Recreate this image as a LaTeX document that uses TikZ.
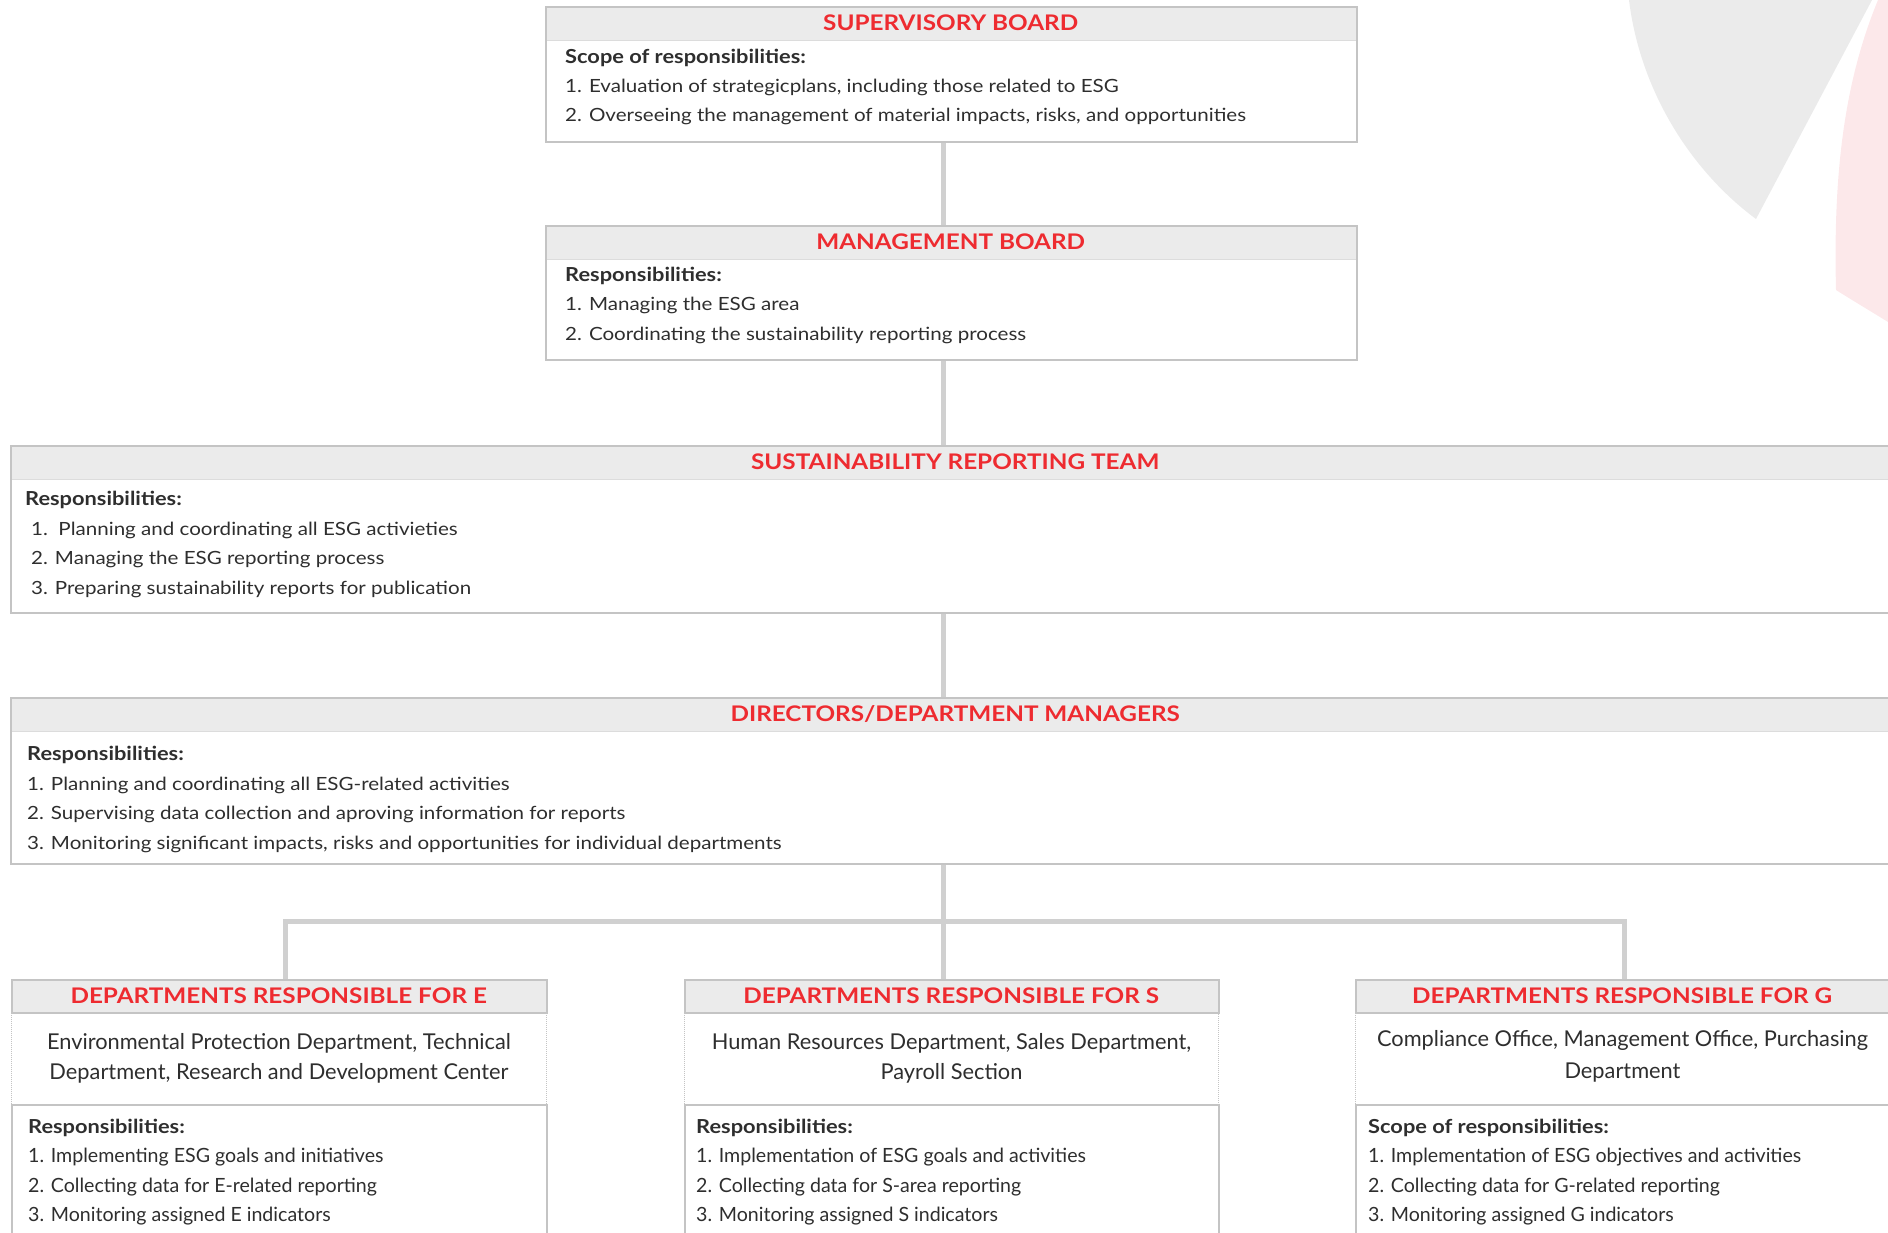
\documentclass[tikz,border=0pt]{standalone}
\usepackage{fontspec}
\setmainfont{Lato}
\newfontfamily\widefont[FakeStretch=1.13]{Lato}
\usepackage{tikz}
\usetikzlibrary{positioning}

\definecolor{boxred}{HTML}{EE2B30}
\definecolor{headgray}{HTML}{EBEBEB}
\definecolor{framegray}{HTML}{C4C4C4}
\definecolor{linkgray}{HTML}{D0D0D0}
\definecolor{textgray}{HTML}{2E2E2E}
\definecolor{leafgray}{HTML}{EBEBEB}
\definecolor{leafpink}{HTML}{FCE8EA}

\newcommand{\titlefont}{\widefont\fontsize{21.5}{25}\selectfont\bfseries}
\newcommand{\bodyfont}{\widefont\fontsize{18.2}{22}\selectfont}
\newcommand{\deptfont}{\fontsize{19.6}{22}\selectfont}
\newcommand{\leadfont}{\widefont\fontsize{19.3}{22}\selectfont\bfseries}
\newcommand{\unitfont}{\fontsize{21.8}{30}\selectfont}

\tikzset{
	frame/.style={draw=framegray, line width=2pt, rectangle, anchor=north west, inner sep=0pt},
	head/.style={fill=headgray, rectangle, anchor=north west, inner sep=0pt, minimum height=34pt, text=boxred, font=\titlefont},
	unitbox/.style={draw=framegray, densely dotted, line width=1pt, rectangle, anchor=north west, inner sep=0pt, minimum height=92pt, align=center, text=textgray, font=\unitfont},
	entry/.style={anchor=base west, inner sep=0pt, text=textgray, font=\bodyfont},
	deptentry/.style={entry, font=\deptfont},
	lead/.style={entry, font=\leadfont},
	link/.style={draw=linkgray, line width=5pt},
	sep/.style={draw=framegray!60, line width=1pt},
}

\begin{document}
\begin{tikzpicture}[x=1pt, y=-1pt]
				\useasboundingbox (0,0) rectangle (1888,1232);
				\clip (0,0) rectangle (1888,1232);
				
				% background leaves
				\fill[leafgray] (1629,0) .. controls (1640,90) and (1690,170) .. (1756,219) -- (1872,0) -- cycle;
				\fill[leafpink] (1878,0) .. controls (1845,80) and (1833,170) .. (1836,290) .. controls (1855,302) and (1872,312) .. (1888,322) -- (1888,0) -- cycle;
				
				% header bands
				\node[head, minimum width=811pt] (supHead) at (545,6) {SUPERVISORY BOARD};
				\node[head, minimum width=811pt] (mgmtHead) at (545,225) {MANAGEMENT BOARD};
				\node[head, minimum width=1890pt] (sustHead) at (10,445) {SUSTAINABILITY REPORTING TEAM};
				\node[head, minimum width=1890pt] (dirHead) at (10,697) {DIRECTORS/DEPARTMENT MANAGERS};
				\node[head, minimum width=535pt, minimum height=33pt] (eHead) at (11,979) {DEPARTMENTS RESPONSIBLE FOR E};
				\node[head, minimum width=534pt, minimum height=33pt] (sHead) at (684,979) {DEPARTMENTS RESPONSIBLE FOR S};
				\node[head, minimum width=534pt, minimum height=33pt] (gHead) at (1355,979) {DEPARTMENTS RESPONSIBLE FOR G};
				
				\draw[sep] (supHead.south west) -- (supHead.south east);
				\draw[sep] (mgmtHead.south west) -- (mgmtHead.south east);
				\draw[sep] (sustHead.south west) -- (sustHead.south east);
				\draw[sep] (dirHead.south west) -- (dirHead.south east);
				
				% frames
				\node[frame, minimum width=811pt, minimum height=135pt] (sup) at (545,6) {};
				\node[frame, minimum width=811pt, minimum height=134pt] (mgmt) at (545,225) {};
				\node[frame, minimum width=1890pt, minimum height=167pt] (sust) at (10,445) {};
				\node[frame, minimum width=1890pt, minimum height=166pt] (dir) at (10,697) {};
				\node[frame, minimum width=535pt, minimum height=33pt] (eTop) at (11,979) {};
				\node[frame, minimum width=534pt, minimum height=33pt] (sTop) at (684,979) {};
				\node[frame, minimum width=534pt, minimum height=33pt] (gTop) at (1355,979) {};
				
				% department units
				\node[unitbox, minimum width=535pt] (eUnit) at (11,1012) {Environmental Protection Department, Technical\\Department, Research and Development Center};
				\node[unitbox, minimum width=534pt] (sUnit) at (684,1012) {Human Resources Department, Sales Department,\\Payroll Section};
				\node[unitbox, minimum width=534pt, text depth=8pt] (gUnit) at (1355,1012) {Compliance Office, Management Office, Purchasing\\[2pt]Department};
				
				\node[frame, minimum width=535pt, minimum height=200pt] (eBody) at (11,1104) {};
				\node[frame, minimum width=534pt, minimum height=200pt] (sBody) at (684,1104) {};
				\node[frame, minimum width=534pt, minimum height=200pt] (gBody) at (1355,1104) {};
				
				% texts
				\node[lead] (sup0) at (565,63) {Scope of responsibilities:};
				\node[entry] (sup1) at (565,92) {1. Evaluation of strategicplans, including those related to ESG};
				\node[entry] (sup2) at (565,121) {2. Overseeing the management of material impacts, risks, and opportunities};
				
				\node[lead] (mgmt0) at (565,281) {Responsibilities:};
				\node[entry] (mgmt1) at (565,310) {1. Managing the ESG area};
				\node[entry] (mgmt2) at (565,340) {2. Coordinating the sustainability reporting process};
				
				\node[lead] (sust0) at (25,505) {Responsibilities:};
				\node[entry] (sust1) at (31,535) {1.\ \ Planning and coordinating all ESG activieties};
				\node[entry] (sust2) at (31,564) {2. Managing the ESG reporting process};
				\node[entry] (sust3) at (31,594) {3. Preparing sustainability reports for publication};
				
				\node[lead] (dir0) at (27,760) {Responsibilities:};
				\node[entry] (dir1) at (27,790) {1. Planning and coordinating all ESG-related activities};
				\node[entry] (dir2) at (27,819) {2. Supervising data collection and aproving information for reports};
				\node[entry] (dir3) at (27,849) {3. Monitoring significant impacts, risks and opportunities for individual departments};
				
				\node[lead] (e0) at (28,1133) {Responsibilities:};
				\node[deptentry] (e1) at (28,1162) {1. Implementing ESG goals and initiatives};
				\node[deptentry] (e2) at (28,1192) {2. Collecting data for E-related reporting};
				\node[deptentry] (e3) at (28,1221) {3. Monitoring assigned E indicators};
				
				\node[lead] (s0) at (696,1133) {Responsibilities:};
				\node[deptentry] (s1) at (696,1162) {1. Implementation of ESG goals and activities};
				\node[deptentry] (s2) at (696,1192) {2. Collecting data for S-area reporting};
				\node[deptentry] (s3) at (696,1221) {3. Monitoring assigned S indicators};
				
				\node[lead] (g0) at (1368,1133) {Scope of responsibilities:};
				\node[deptentry] (g1) at (1368,1162) {1. Implementation of ESG objectives and activities};
				\node[deptentry] (g2) at (1368,1192) {2. Collecting data for G-related reporting};
				\node[deptentry] (g3) at (1368,1221) {3. Monitoring assigned G indicators};
				
				% connectors
				\coordinate (spine) at (943,921.5);
				\coordinate (eDrop) at (285,921.5);
				\coordinate (gDrop) at (1624.5,921.5);
				
				\draw[link] (sup.south -| spine) -- (mgmt.north -| spine);
				\draw[link] (mgmt.south -| spine) -- (sust.north -| spine);
				\draw[link] (sust.south -| spine) -- (dir.north -| spine);
				\draw[link] (dir.south -| spine) -- (spine) -- (sTop.north -| spine);
				\draw[link] (eTop.north -| eDrop) -- (eDrop) -- (gDrop) -- (gTop.north -| gDrop);
			\end{tikzpicture}
\end{document}
